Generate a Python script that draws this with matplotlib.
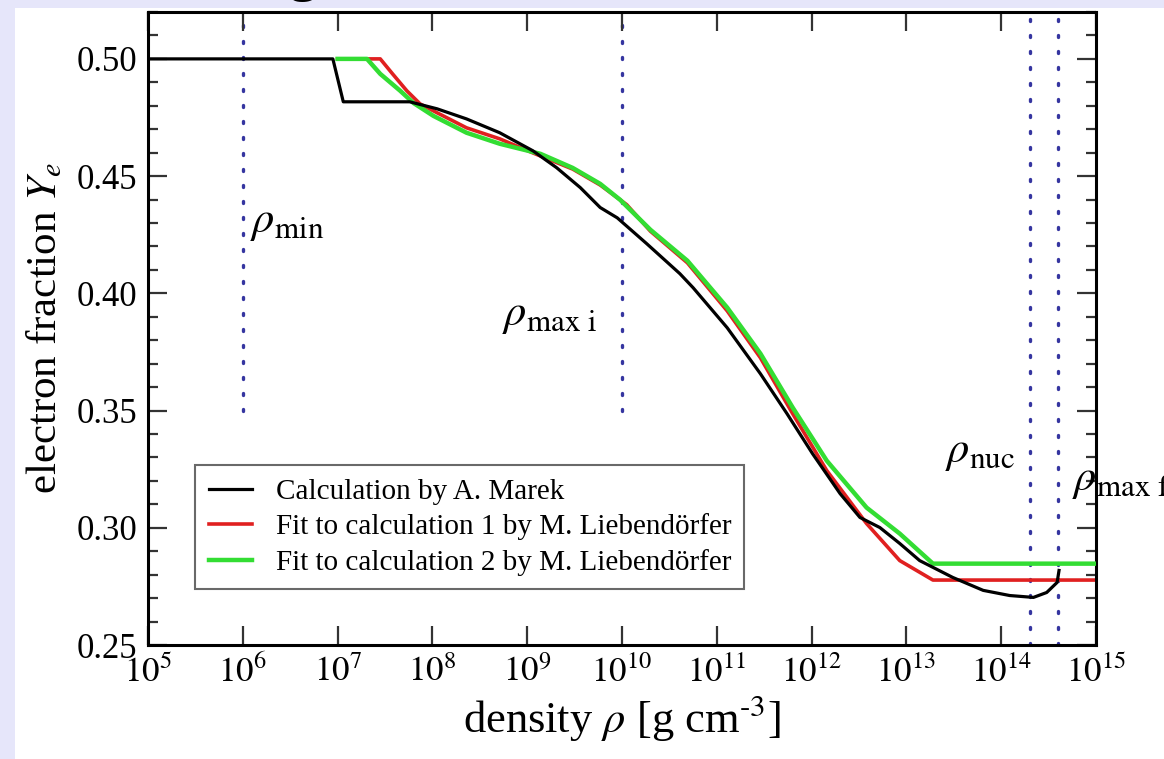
import numpy as np
import matplotlib
matplotlib.use("Agg")
import matplotlib.pyplot as plt
from matplotlib.patches import Rectangle
from matplotlib.ticker import FixedLocator, MultipleLocator

plt.rcParams['font.family'] = ['Liberation Serif', 'DejaVu Serif']
plt.rcParams['mathtext.fontset'] = 'stix'

# log10(density) and electron fraction
marek_logrho = [5.0, 6.95, 7.06, 7.76, 8.05, 8.36, 8.71, 9.06, 9.31, 9.56, 9.77, 9.95,
                10.26, 10.61, 10.75, 11.11, 11.46, 11.74, 12.01, 12.30, 12.51, 12.72,
                12.93, 13.14, 13.49, 13.81, 14.09, 14.34, 14.48, 14.59, 14.61]
marek_ye = [0.500, 0.500, 0.4817, 0.4817, 0.4787, 0.4744, 0.4685, 0.4608, 0.4536, 0.4451,
            0.4366, 0.4322, 0.4212, 0.4084, 0.4024, 0.3853, 0.3657, 0.3487, 0.3316, 0.3146,
            0.3044, 0.3001, 0.2933, 0.2860, 0.2788, 0.2733, 0.2711, 0.2703, 0.2724, 0.2767,
            0.2818]

fit1_logrho = [7.0, 7.45, 7.58, 7.73, 7.87, 8.05, 8.36, 8.71, 9.06, 9.48, 9.77, 10.05,
               10.30, 10.69, 11.11, 11.46, 11.80, 12.16, 12.58, 12.93, 13.28, 15.0]
fit1_ye = [0.500, 0.500, 0.4936, 0.4864, 0.4808, 0.4770, 0.4706, 0.4659, 0.4599, 0.4530,
           0.4462, 0.4378, 0.4265, 0.4130, 0.3925, 0.3725, 0.3487, 0.3244, 0.3018, 0.2860,
           0.2777, 0.2777]

fit2_logrho = [7.0, 7.31, 7.45, 7.66, 7.80, 8.01, 8.36, 8.71, 9.14, 9.48, 9.77, 9.98,
               10.30, 10.69, 11.11, 11.46, 11.80, 12.16, 12.58, 12.93, 13.28, 15.0]
fit2_ye = [0.500, 0.500, 0.4936, 0.4864, 0.4812, 0.4757, 0.4685, 0.4638, 0.4595, 0.4535,
           0.4467, 0.4399, 0.4271, 0.4139, 0.3939, 0.3743, 0.3513, 0.3286, 0.3086, 0.2975,
           0.2847, 0.2847]

# marker densities (log10) and label names
marker_logrho = [6.0, 10.0, 14.3, 14.6]
marker_ymin = [0.35, 0.35, 0.25, 0.25]
marker_names = ['min', 'max i', 'nuc', 'max f']
label_logrho = [6.076, 8.734, 13.407, 14.747]
label_ye = [0.4300, 0.3905, 0.3320, 0.3200]

fig = plt.figure(figsize=(11.64, 7.59), dpi=100, facecolor='#e6e6fa')
fig.patches.append(Rectangle((15 / 1164, 0), 1, 1 - 8 / 759, transform=fig.transFigure,
                             facecolor='white', edgecolor='none', zorder=-5))
fig.text(303 / 1164, 1 - 2 / 759, 'g', ha='center', va='bottom', fontsize=44)

ax = fig.add_axes([148 / 1164, 1 - 645 / 759, 948 / 1164, 633 / 759])
ax.set_facecolor('white')

for lx, y0 in zip(marker_logrho, marker_ymin):
    ax.plot([10 ** lx, 10 ** lx], [y0, 0.52], color='#3535a0', lw=2.4,
            linestyle=(0, (0.6, 4.2)), dash_capstyle='round', zorder=1)

ax.plot(10 ** np.array(fit1_logrho), fit1_ye, color='#e02020', lw=2.6,
        label='Fit to calculation 1 by M. Liebendörfer', zorder=2)
ax.plot(10 ** np.array(fit2_logrho), fit2_ye, color='#33dd33', lw=3.2,
        label='Fit to calculation 2 by M. Liebendörfer', zorder=3)
ax.plot(10 ** np.array(marek_logrho), marek_ye, color='black', lw=2.3,
        label='Calculation by A. Marek', zorder=4)

for lx, ly, nm in zip(label_logrho, label_ye, marker_names):
    ax.text(10 ** lx, ly, r'$\rho_{\mathrm{%s}}$' % nm.replace(' ', r'\ '), fontsize=32,
            ha='left', va='center', clip_on=False)

ax.set_xscale('log')
ax.set_xlim(1e5, 1e15)
ax.set_ylim(0.25, 0.52)
ax.xaxis.set_major_locator(FixedLocator([10.0 ** k for k in range(5, 16)]))
ax.xaxis.set_minor_locator(FixedLocator([]))
ax.set_xticklabels([r'$10^{%d}$' % k for k in range(5, 16)])
ax.yaxis.set_major_locator(FixedLocator([0.25, 0.30, 0.35, 0.40, 0.45, 0.50]))
ax.yaxis.set_minor_locator(MultipleLocator(0.01))
ax.set_yticklabels(['0.25', '0.30', '0.35', '0.40', '0.45', '0.50'])

ax.tick_params(which='both', direction='in', top=True, right=True, width=1.6, color='#333333')
ax.tick_params(which='major', length=14, labelsize=25, pad=8)
ax.tick_params(which='minor', length=7)
for s in ax.spines.values():
    s.set_linewidth(2.2)

ax.set_xlabel(r'density $\rho$ [g cm$^{\text{-3}}$]', fontsize=32, labelpad=2)
ax.set_ylabel(r'electron fraction $Y_e$', fontsize=31, labelpad=8)

h, l = ax.get_legend_handles_labels()
order = [2, 0, 1]
leg = ax.legend([h[i] for i in order], [l[i] for i in order], loc='upper left',
                bbox_to_anchor=(0.05, 0.284), fontsize=21, frameon=True, fancybox=False,
                edgecolor='#444444', handlelength=1.5, borderpad=0.45, labelspacing=0.3,
                handletextpad=0.8, borderaxespad=0)
leg.get_frame().set_linewidth(1.5)

fig.savefig('out.png', dpi=100, facecolor=fig.get_facecolor())
